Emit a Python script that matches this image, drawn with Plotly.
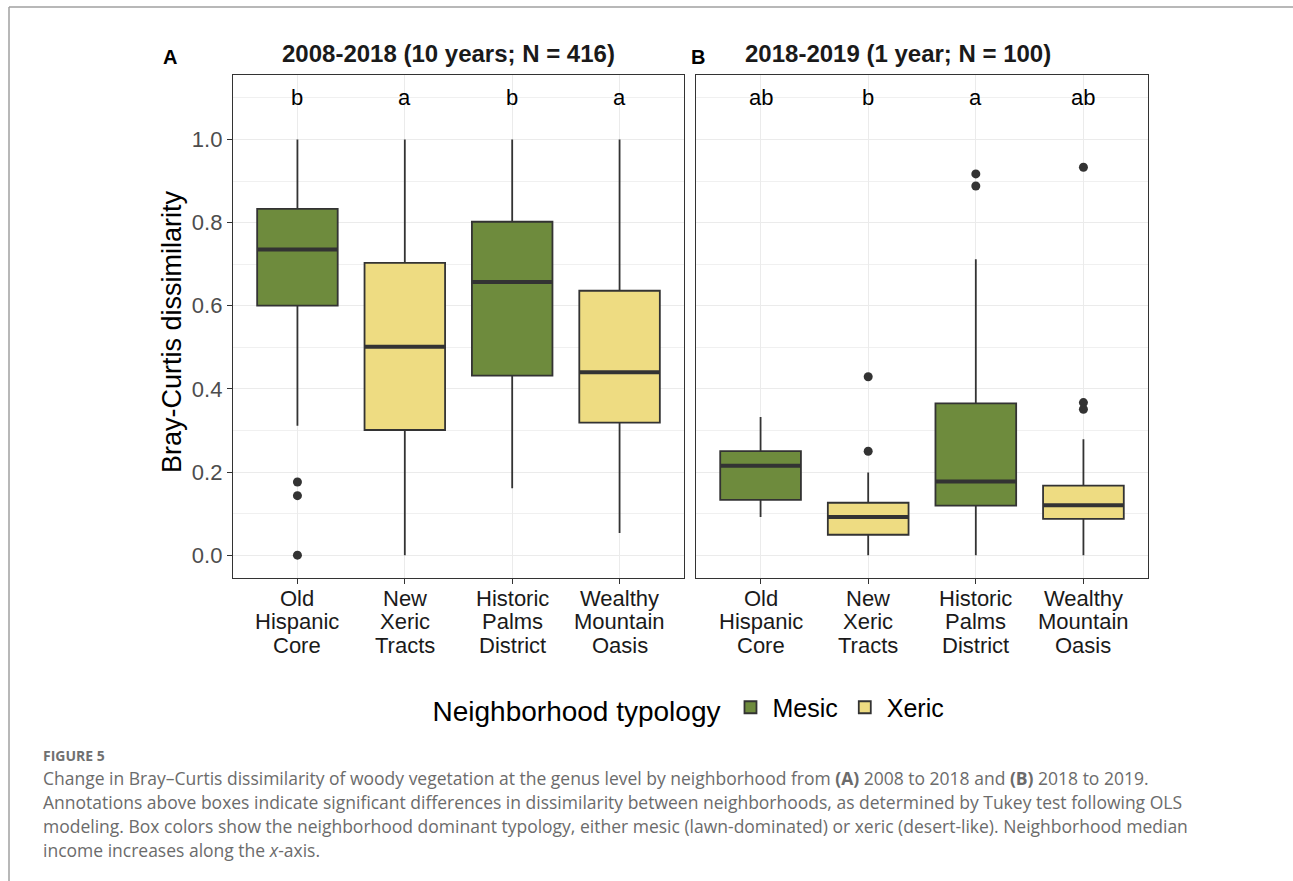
import plotly.graph_objects as go

W, H = 1293, 881

# ---- data -------------------------------------------------------------
categories = ["Old Hispanic Core", "New Xeric Tracts",
              "Historic Palms District", "Wealthy Mountain Oasis"]
category_lines = [["Old", "Hispanic", "Core"],
                  ["New", "Xeric", "Tracts"],
                  ["Historic", "Palms", "District"],
                  ["Wealthy", "Mountain", "Oasis"]]
typology = ["Mesic", "Xeric", "Mesic", "Xeric"]
positions = [1, 2, 3, 4]

# Panel A: 2008-2018 (10 years; N = 416)
a_lower = [0.311, 0.000, 0.161, 0.053]
a_q1 = [0.600, 0.301, 0.432, 0.319]
a_median = [0.735, 0.501, 0.657, 0.440]
a_q3 = [0.833, 0.703, 0.802, 0.636]
a_upper = [1.000, 1.000, 1.000, 1.000]
a_outliers = [[0.176, 0.143, 0.000], [], [], []]
a_letters = ["b", "a", "b", "a"]

# Panel B: 2018-2019 (1 year; N = 100)
b_lower = [0.092, 0.000, 0.000, 0.000]
b_q1 = [0.133, 0.049, 0.119, 0.087]
b_median = [0.215, 0.092, 0.177, 0.120]
b_q3 = [0.250, 0.126, 0.365, 0.167]
b_upper = [0.332, 0.199, 0.712, 0.279]
b_outliers = [[], [0.429, 0.250], [0.917, 0.888], [0.933, 0.367, 0.351]]
b_letters = ["ab", "b", "a", "ab"]

letter_y = 1.1

colors = {"Mesic": "#6E8B3D", "Xeric": "#EEDC82"}
INK = "#333333"
GRID = "#EBEBEB"
BOX_W = 0.75

# pixel -> paper helpers
def px(x):
    return x / W

def py(y):
    return 1 - y / H

panels = [
    dict(xa="x", ya="y", lower=a_lower, q1=a_q1, med=a_median, q3=a_q3,
         upper=a_upper, out=a_outliers, letters=a_letters,
         title="2008-2018 (10 years; N = 416)", tag="A",
         dom=(233, 684), titlex=448, tagx=170),
    dict(xa="x2", ya="y2", lower=b_lower, q1=b_q1, med=b_median, q3=b_q3,
         upper=b_upper, out=b_outliers, letters=b_letters,
         title="2018-2019 (1 year; N = 100)", tag="B",
         dom=(696, 1148), titlex=898, tagx=698),
]

fig = go.Figure()
annotations = []

for k, p in enumerate(panels):
    for t in ["Mesic", "Xeric"]:
        idx = [i for i in range(len(categories)) if typology[i] == t]
        fig.add_trace(go.Box(
            x=[positions[i] for i in idx],
            q1=[p["q1"][i] for i in idx],
            median=[p["med"][i] for i in idx],
            q3=[p["q3"][i] for i in idx],
            lowerfence=[p["lower"][i] for i in idx],
            upperfence=[p["upper"][i] for i in idx],
            orientation="v",
            boxpoints=False,
            width=BOX_W,
            whiskerwidth=0,
            fillcolor=colors[t],
            line=dict(color=INK, width=1.8),
            name=t,
            legendgroup=t,
            showlegend=(k == 0),
            xaxis=p["xa"], yaxis=p["ya"],
            hoverinfo="skip",
        ))
    # thicker median bars
    mx, my = [], []
    for i in range(len(categories)):
        mx += [positions[i] - BOX_W / 2, positions[i] + BOX_W / 2, None]
        my += [p["med"][i], p["med"][i], None]
    fig.add_trace(go.Scatter(
        x=mx, y=my, mode="lines", line=dict(color=INK, width=4),
        showlegend=False, hoverinfo="skip", xaxis=p["xa"], yaxis=p["ya"]))
    # outliers
    ox, oy = [], []
    for i in range(len(categories)):
        for v in p["out"][i]:
            ox.append(positions[i])
            oy.append(v)
    fig.add_trace(go.Scatter(
        x=ox, y=oy, mode="markers",
        marker=dict(color=INK, size=9),
        showlegend=False, hoverinfo="skip", xaxis=p["xa"], yaxis=p["ya"]))

    # significance letters
    for i in range(len(categories)):
        annotations.append(dict(
            x=positions[i], y=letter_y, xref=p["xa"], yref=p["ya"],
            text=p["letters"][i], showarrow=False,
            font=dict(family="Liberation Sans, Arial", size=22, color="#000000"),
            xanchor="center", yanchor="middle"))

    # category labels, one line each
    for i in range(len(categories)):
        for j, word in enumerate(category_lines[i]):
            annotations.append(dict(
                x=positions[i], y=py(598 + 23.5 * j), xref=p["xa"], yref="paper",
                text=word, showarrow=False,
                font=dict(family="Liberation Sans, Arial", size=22, color="#1A1A1A"),
                xanchor="center", yanchor="middle"))

    # panel title and tag
    annotations.append(dict(
        x=px(p["titlex"]), y=py(54), xref="paper", yref="paper",
        text="<b>" + p["title"] + "</b>", showarrow=False,
        font=dict(family="Liberation Sans, Arial", size=24, color="#1A1A1A"),
        xanchor="center", yanchor="middle"))
    annotations.append(dict(
        x=px(p["tagx"]), y=py(57), xref="paper", yref="paper",
        text="<b>" + p["tag"] + "</b>", showarrow=False,
        font=dict(family="Liberation Sans, Arial", size=20, color="#000000"),
        xanchor="center", yanchor="middle"))

# y-axis title
annotations.append(dict(
    x=px(172), y=py(332), xref="paper", yref="paper",
    text="Bray-Curtis dissimilarity", textangle=-90, showarrow=False,
    font=dict(family="Liberation Sans, Arial", size=27, color="#000000"),
    xanchor="center", yanchor="middle"))

# figure caption
CAP_FONT = "Open Sans, Lato, sans-serif"
annotations.append(dict(
    x=px(41), y=py(755), xref="paper", yref="paper", text="<b>FIGURE 5</b>",
    showarrow=False, xanchor="left", yanchor="middle",
    font=dict(family=CAP_FONT, size=14, color="#707070")))
caption_lines = [
    "Change in Bray\u2013Curtis dissimilarity of woody vegetation at the genus level by neighborhood from <b>(A)</b> 2008 to 2018 and <b>(B)</b> 2018 to 2019.",
    "Annotations above boxes indicate significant differences in dissimilarity between neighborhoods, as determined by Tukey test following OLS",
    "modeling. Box colors show the neighborhood dominant typology, either mesic (lawn-dominated) or xeric (desert-like). Neighborhood median",
    "income increases along the <i>x</i>-axis.",
]
for j, line in enumerate(caption_lines):
    annotations.append(dict(
        x=px(41), y=py(778 + 24 * j), xref="paper", yref="paper", text=line,
        showarrow=False, xanchor="left", yanchor="middle",
        font=dict(family=CAP_FONT, size=17.5, color="#6B6B6B")))

y_common = dict(
    range=[-0.055, 1.155], tickvals=[0, 0.2, 0.4, 0.6, 0.8, 1.0],
    showgrid=True, gridcolor=GRID, gridwidth=1.3, zeroline=False,
    minor=dict(dtick=0.1, tick0=0, showgrid=True, gridcolor="#F0F0F0", gridwidth=1),
    showline=True, linecolor=INK, linewidth=1.3, mirror=True,
    domain=[py(578), py(75)],
)
x_common = dict(
    range=[0.4, 4.6], tickvals=positions, ticktext=[""] * 4,
    showgrid=True, gridcolor=GRID, gridwidth=1.3, zeroline=False,
    ticks="outside", ticklen=5, tickcolor=INK, tickwidth=1.3,
    showline=True, linecolor=INK, linewidth=1.3, mirror=True,
)

fig.update_layout(
    width=W, height=H,
    margin=dict(l=0, r=0, t=0, b=0),
    paper_bgcolor="white", plot_bgcolor="white",
    boxmode="overlay",
    xaxis=dict(x_common, domain=[px(233), px(684)], anchor="y"),
    xaxis2=dict(x_common, domain=[px(696), px(1148)], anchor="y2"),
    yaxis=dict(y_common, anchor="x", ticks="outside", ticklen=5, tickcolor=INK,
               tickwidth=1.3, tickformat=".1f",
               tickfont=dict(family="Liberation Sans, Arial", size=22, color="#4D4D4D")),
    yaxis2=dict(y_common, anchor="x2", matches="y", showticklabels=False, ticks=""),
    legend=dict(
        orientation="h", x=px(690), xanchor="center", y=py(708), yanchor="middle",
        title=dict(text="Neighborhood typology", side="left",
                   font=dict(family="Liberation Sans, Arial", size=28, color="#000000")),
        font=dict(family="Liberation Sans, Arial", size=25, color="#000000"),
        itemwidth=34, bgcolor="rgba(0,0,0,0)",
    ),
    annotations=annotations,
    shapes=[
        dict(type="line", xref="paper", yref="paper", x0=px(9), x1=1,
             y0=py(7), y1=py(7), line=dict(color="#A0A0A0", width=1.5)),
        dict(type="line", xref="paper", yref="paper", x0=px(9), x1=px(9),
             y0=py(7), y1=0, line=dict(color="#A0A0A0", width=1.5)),
    ],
)

fig.write_html("out.html")
